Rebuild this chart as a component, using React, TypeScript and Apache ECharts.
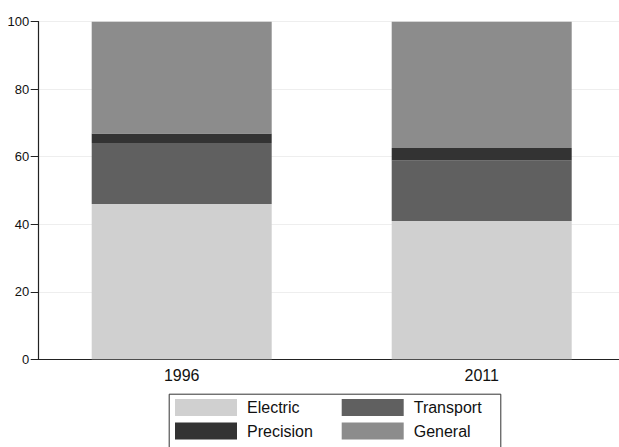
import React, { useEffect, useRef } from "react";
import * as echarts from "echarts";

const categories = ["1996", "2011"];
const seriesNames = ["Electric", "Transport", "Precision", "General"];
const electric = [46.0, 41.0];
const transport = [18.1, 17.9];
const precision = [2.8, 3.7];
const general = [33.1, 37.4];
const colors = ["#d0d0d0", "#606060", "#333333", "#8c8c8c"];
const yTicks = [0, 20, 40, 60, 80, 100];

export default function App() {
  const ref = useRef<HTMLDivElement>(null);
  useEffect(() => {
    if (!ref.current) return;
    const chart = echarts.init(ref.current, null, { renderer: "svg" });
    const values = [electric, transport, precision, general];
    const font = "'Liberation Sans', Arial, sans-serif";
    const legendPos = [
      { left: 175, top: 399 },
      { left: 341.7, top: 399 },
      { left: 175, top: 422.5 },
      { left: 341.7, top: 422.5 },
    ];
    chart.setOption({
      animation: false,
      backgroundColor: "#ffffff",
      grid: {
        left: 31.7,
        width: 600,
        top: 21.7,
        bottom: 87.7,
        containLabel: false,
        outerBoundsMode: "none",
      },
      xAxis: {
        type: "category",
        data: categories,
        axisLine: { lineStyle: { color: "#222", width: 1.2 } },
        axisTick: { show: false },
        axisLabel: { color: "#111", fontSize: 16, fontFamily: font, margin: 8 },
      },
      yAxis: {
        type: "value",
        min: yTicks[0],
        max: yTicks[yTicks.length - 1],
        interval: 20,
        offset: -7,
        axisLine: { show: true, lineStyle: { color: "#222", width: 1.2 } },
        axisTick: { show: true, length: 8, lineStyle: { color: "#222" } },
        axisLabel: { color: "#111", fontSize: 13, fontFamily: font, margin: 9.5 },
        splitLine: { show: true, lineStyle: { color: "#eeeeee", width: 1 } },
      },
      legend: seriesNames.map((name, i) => ({
        data: [name],
        left: legendPos[i].left,
        top: legendPos[i].top,
        padding: 0,
        itemWidth: 62,
        itemHeight: 17,
        icon: "rect",
        selectedMode: false,
        textStyle: {
          color: "#111",
          fontSize: 16,
          fontFamily: font,
          padding: [0, 0, 0, 5],
        },
      })),
      graphic: [
        {
          type: "rect",
          left: 166.7,
          top: 391.7,
          shape: { width: 331.6, height: 54 },
          style: { fill: "none", stroke: "#333", lineWidth: 1 },
          z: 100,
        },
      ],
      series: seriesNames.map((name, i) => ({
        name,
        type: "bar",
        stack: "total",
        barWidth: 180,
        data: values[i],
        itemStyle: { color: colors[i] },
      })),
    });
    return () => chart.dispose();
  }, []);
  return (
    <div
      ref={ref}
      style={{ position: "fixed", left: 0, top: 0, width: 619, height: 447 }}
    />
  );
}
